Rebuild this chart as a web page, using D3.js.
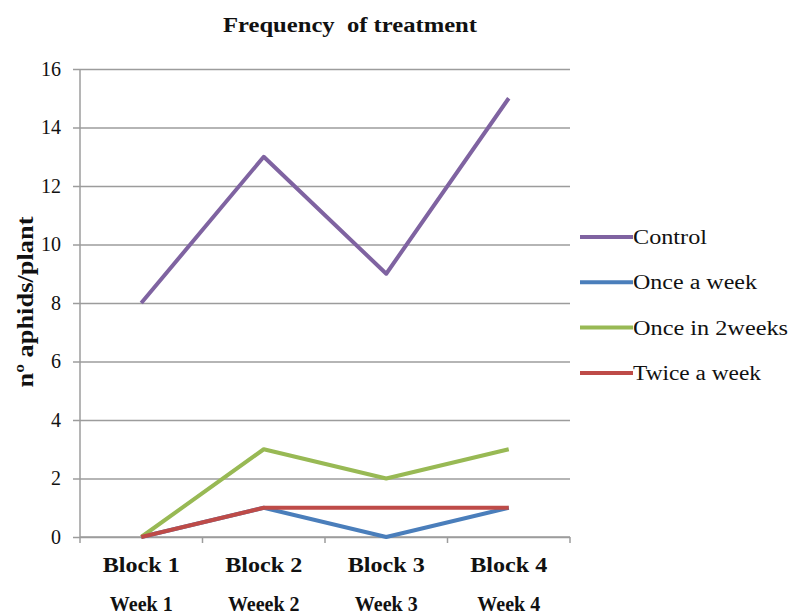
<!DOCTYPE html>
<html>
<head>
<meta charset="utf-8">
<script src="https://cdn.jsdelivr.net/npm/d3@7"></script>
<style>
  html, body { margin: 0; padding: 0; background: #fff; }
  svg { display: block; }
  svg text { font-family: "Liberation Serif", "DejaVu Serif", serif !important; fill: #111; }
</style>
</head>
<body>
<svg id="chart" width="790" height="616"></svg>
<script>
// Aphid counts per plant, by treatment frequency
const blocks = ["Block 1", "Block 2", "Block 3", "Block 4"];
const weeks = ["Week 1", "Weeek 2", "Week 3", "Week 4"];
const seriesNames = ["Control", "Once a week", "Once in 2weeks", "Twice a week"];
const control = [8, 13, 9, 15];
const onceAWeek = [0, 1, 0, 1];
const onceIn2Weeks = [0, 3, 2, 3];
const twiceAWeek = [0, 1, 1, 1];
const yTicks = [0, 2, 4, 6, 8, 10, 12, 14, 16];
const colors = ["#7F63A1", "#4A7EBB", "#98B954", "#BE4B48"];

const series = [control, onceAWeek, onceIn2Weeks, twiceAWeek].map((values, i) => ({
  name: seriesNames[i], values, color: colors[i]
}));

const svg = d3.select("#chart");
const plot = { left: 80, right: 570, top: 69, bottom: 537 };

const x = d3.scaleBand().domain(blocks).range([plot.left, plot.right]).padding(0);
const y = d3.scaleLinear().domain([0, 16]).range([plot.bottom, plot.top]);

// Title (wide serif face)
svg.append("text")
  .attr("x", 350).attr("y", 32)
  .attr("text-anchor", "middle")
  .attr("font-weight", "bold")
  .attr("font-size", 20)
  .attr("textLength", 254)
  .attr("lengthAdjust", "spacingAndGlyphs")
  .attr("xml:space", "preserve")
  .text("Frequency  of treatment");

// Horizontal gridlines and y axis
const yAxis = d3.axisLeft(y).tickValues(yTicks).tickSize(-(plot.right - plot.left)).tickPadding(19);
const gy = svg.append("g").attr("transform", `translate(${plot.left},0)`).call(yAxis);
gy.attr("font-family", null);
gy.select(".domain").remove();
gy.selectAll(".tick line").attr("stroke", "#9c9c9c").attr("stroke-width", 1.5).attr("x1", -7);
gy.selectAll(".tick text").attr("font-size", 20).attr("fill", "#111");
svg.append("line")
  .attr("x1", plot.left).attr("x2", plot.left)
  .attr("y1", plot.top).attr("y2", plot.bottom)
  .attr("stroke", "#9c9c9c").attr("stroke-width", 1.5);

// X axis with ticks at band boundaries
const gx = svg.append("g").attr("transform", `translate(0,${plot.bottom})`);
gx.append("line").attr("x1", plot.left).attr("x2", plot.right)
  .attr("stroke", "#9c9c9c").attr("stroke-width", 1.5);
const boundaries = blocks.map(b => x(b)).concat([x(blocks[blocks.length - 1]) + x.bandwidth()]);
gx.selectAll("line.tk").data(boundaries).join("line").attr("class", "tk")
  .attr("x1", d => d).attr("x2", d => d).attr("y1", 0).attr("y2", 6)
  .attr("stroke", "#9c9c9c").attr("stroke-width", 1.5);
gx.selectAll("text.blk").data(blocks).join("text").attr("class", "blk")
  .attr("x", d => x(d) + x.bandwidth() / 2).attr("y", 35)
  .attr("text-anchor", "middle").attr("font-weight", "bold").attr("font-size", 20)
  .attr("textLength", 77).attr("lengthAdjust", "spacingAndGlyphs")
  .text(d => d);
gx.selectAll("text.wk").data(weeks).join("text").attr("class", "wk")
  .attr("x", (d, i) => x(blocks[i]) + x.bandwidth() / 2).attr("y", 74)
  .attr("text-anchor", "middle").attr("font-weight", "bold").attr("font-size", 20)
  .text(d => d);

// Y axis title
svg.append("text")
  .attr("transform", "translate(33,302) rotate(-90)")
  .attr("text-anchor", "middle")
  .attr("font-weight", "bold")
  .attr("font-size", 23)
  .attr("textLength", 171)
  .attr("lengthAdjust", "spacingAndGlyphs")
  .text("nº aphids/plant");

// Series lines
const line = d3.line()
  .x((d, i) => x(blocks[i]) + x.bandwidth() / 2)
  .y(d => y(d));
svg.append("g").selectAll("path").data(series).join("path")
  .attr("d", d => line(d.values))
  .attr("fill", "none")
  .attr("stroke", d => d.color)
  .attr("stroke-width", 4)
  .attr("stroke-linejoin", "round");

// Legend
const legendWidths = [74, 124, 155, 128];
const legend = svg.append("g").attr("transform", "translate(580,237)");
const rows = legend.selectAll("g").data(series).join("g")
  .attr("transform", (d, i) => `translate(0,${i * 45.3})`);
rows.append("line").attr("x1", 0).attr("x2", 53).attr("y1", 0).attr("y2", 0)
  .attr("stroke", d => d.color).attr("stroke-width", 4);
rows.append("text").attr("x", 53).attr("y", 7).attr("font-size", 20)
  .attr("font-weight", "normal")
  .attr("textLength", (d, i) => legendWidths[i])
  .attr("lengthAdjust", "spacingAndGlyphs")
  .text(d => d.name);
</script>
</body>
</html>
